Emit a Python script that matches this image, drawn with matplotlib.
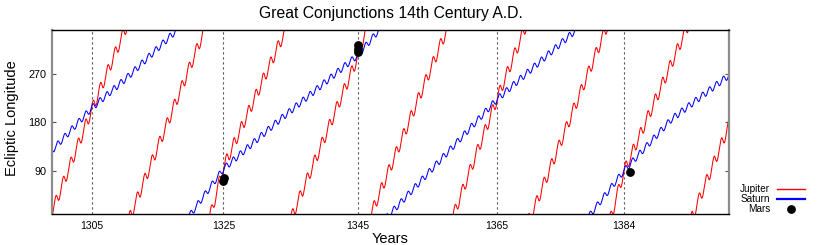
import numpy as np
import matplotlib
matplotlib.use("Agg")
import matplotlib.pyplot as plt
from matplotlib.lines import Line2D

plt.rcParams['font.family'] = ['Liberation Sans', 'DejaVu Sans']

# great conjunction dates (dotted lines) and their labels
conj_years = [1305.88, 1325.33, 1345.17, 1365.76, 1384.49]
conj_labels = ['1305', '1325', '1345', '1365', '1384']

# Jupiter track (year, unwrapped ecliptic longitude)
jup_years = [1300.00, 1300.10, 1305.88, 1311.03, 1311.37, 1322.85, 1323.31, 1325.33,
             1334.90, 1335.33, 1345.17, 1346.23, 1347.19, 1358.20, 1359.26, 1365.76,
             1370.02, 1370.57, 1382.02, 1382.42, 1384.49, 1393.99, 1394.39, 1400.00]
jup_lons = [7, 10, 210, 350, 370, 710, 730, 810,
            1070, 1090, 1388, 1430, 1450, 1790, 1810, 2021,
            2150, 2170, 2510, 2530, 2612, 2870, 2890, 3065]

# Saturn track
sat_years = [1300.00, 1305.88, 1311.20, 1318.90, 1320.30, 1325.33, 1333.20, 1345.17,
             1348.20, 1349.44, 1365.76, 1377.90, 1379.32, 1384.49, 1391.50, 1400.00]
sat_lons = [130, 210, 270, 350, 370, 450, 540, 668,
            710, 730, 941, 1070, 1090, 1172, 1260, 1349]

# Mars positions plotted at the conjunctions
mars_years = [1325.32, 1325.34, 1345.15, 1345.17, 1345.19, 1385.38]
mars_lons = [72, 77, 310, 316, 322, 88.6]

# orbit radii (AU) used for the yearly retrograde loops
jup_radius = 5.20
sat_radius = 9.54


def wrap(d):
    return (d + 180.0) % 360.0 - 180.0


def earth_lon(t):
    # sun at the equinox around mid March
    return 180.0 + 360.0 * (np.asarray(t) - 0.195)


def geo_lon(L, t, r):
    E = np.radians(earth_lon(t))
    Lr = np.radians(L)
    g = np.degrees(np.arctan2(r * np.sin(Lr) - np.sin(E), r * np.cos(Lr) - np.cos(E)))
    return L + wrap(g - L)


def track(years, lons, r, t):
    years = np.array(years)
    lons = np.array(lons, dtype=float)
    helio = lons.copy()
    for _ in range(8):
        helio = helio + (lons - geo_lon(helio, years, r))
    L = np.interp(t, years, helio)
    lon = np.mod(geo_lon(L, t, r), 360.0)
    # break the line where it wraps around
    jumps = np.where(np.abs(np.diff(lon)) > 180)[0] + 1
    return np.insert(t, jumps, np.nan), np.insert(lon, jumps, np.nan)


t = np.linspace(1300, 1400, 20000)
jx, jy = track(jup_years, jup_lons, jup_radius, t)
sx, sy = track(sat_years, sat_lons, sat_radius, t)

fig = plt.figure(figsize=(8.17, 2.45), dpi=100)
ax = fig.add_axes([52 / 817, 1 - 214.3 / 245, (729 - 52) / 817, (214.3 - 30.3) / 245])

for x in conj_years:
    ax.axvline(x, color='#555555', lw=0.8, ls=(0, (2, 2.5)), zorder=1)

ax.plot(jx, jy, color='#ff0000', lw=0.75, zorder=2)
ax.plot(sx, sy, color='#0000ff', lw=0.75, zorder=2)
ax.plot(mars_years, mars_lons, 'o', color='black', ms=5.3, zorder=3)

ax.set_xlim(1300, 1400)
ax.set_ylim(10, 350)
ax.set_xticks(conj_years)
ax.set_xticklabels(conj_labels)
ax.set_yticks([90, 180, 270])
ax.tick_params(axis='x', length=0, pad=5, labelsize=7.5)
ax.tick_params(axis='y', direction='in', length=3, pad=4, labelsize=7.8,
               right=True, color='#555555')

for side in ['left', 'right']:
    ax.spines[side].set_color('#8c8c8c')
    ax.spines[side].set_linewidth(1.6)
for side in ['top', 'bottom']:
    ax.spines[side].set_color('black')
    ax.spines[side].set_linewidth(1.0)

fig.text(390.5 / 817, 1 - 13.5 / 245, 'Great Conjunctions 14th Century A.D.',
         ha='center', va='center', fontsize=11.3)
fig.text(390.5 / 817, 1 - 239 / 245, 'Years', ha='center', va='center', fontsize=10.5)
fig.text(12 / 817, 1 - 118 / 245, 'Ecliptic Longitude', rotation=90,
         ha='center', va='center', fontsize=10.5)

# legend, gnuplot style: right-aligned text with sample on the right
legend_items = [('Jupiter', '#ff0000', 189), ('Saturn', '#0000ff', 199.3), ('Mars', 'black', 209.3)]
for name, col, ypx in legend_items:
    fy = 1 - ypx / 245
    fig.text(770 / 817, fy, name, ha='right', va='center', fontsize=7.2)
    if name == 'Mars':
        fig.add_artist(Line2D([791 / 817], [fy], marker='o', color=col, ms=5.3,
                              transform=fig.transFigure))
    else:
        fig.add_artist(Line2D([777 / 817, 805 / 817], [fy, fy], color=col,
                              lw=1.0 if name == 'Jupiter' else 1.6,
                              transform=fig.transFigure))

fig.savefig('out.png', dpi=100)
